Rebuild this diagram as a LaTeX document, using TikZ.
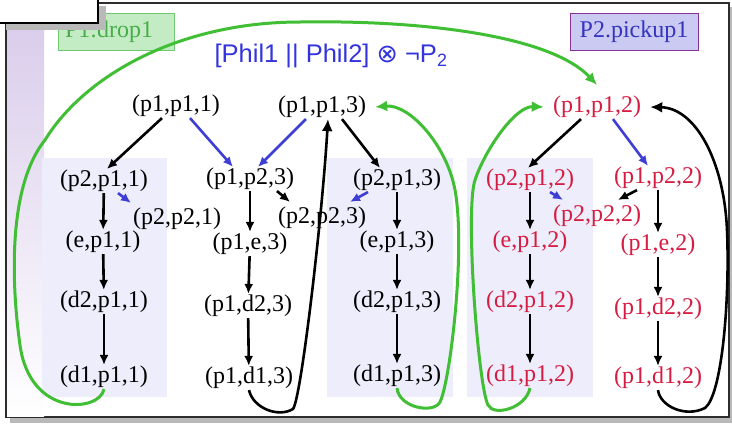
\documentclass[tikz,border=0pt]{standalone}
\usepackage{fontspec}
\setmainfont{Liberation Serif}
\newfontfamily\titlefont{Liberation Sans}
\newfontfamily\symfont{DejaVu Sans}
\usetikzlibrary{arrows.meta}
\definecolor{stred}{RGB}{214,28,66}
\definecolor{arrblue}{RGB}{62,62,212}
\definecolor{grn}{RGB}{64,190,52}
\definecolor{titleblue}{RGB}{52,52,220}
\definecolor{lanefill}{RGB}{237,237,251}
\definecolor{bandtop}{RGB}{216,202,234}
\definecolor{dropfill}{RGB}{196,236,196}
\definecolor{dropdraw}{RGB}{112,200,112}
\definecolor{droptext}{RGB}{72,172,72}
\definecolor{pickfill}{RGB}{202,202,242}
\definecolor{pickdraw}{RGB}{132,52,150}
\definecolor{picktext}{RGB}{52,52,192}

\begin{document}
\begin{tikzpicture}[
  x=1pt, y=-1pt,
  font=\fontsize{24}{28}\selectfont,
  st/.style={inner sep=1pt},
  rst/.style={st, text=stred},
  tag/.style={line width=0.8pt, inner xsep=7pt, inner ysep=0pt,
              minimum height=37pt},
  arr/.style={-{Latex[length=10pt,width=9pt]}, line width=2.6pt},
  barr/.style={arr, draw=arrblue},
  larr/.style={-{Latex[length=12pt,width=11pt]}, line width=2.6pt},
  garr/.style={larr, draw=grn, line width=3pt}
]
\useasboundingbox (0,0) rectangle (732,424);
% slide frame and background
\fill[gray!55] (10,7) rectangle (732,423);
\draw[fill=white, draw=gray!35!black, line width=1.2pt] (6,3) rectangle (729,417);
\shade[top color=bandtop, bottom color=white] (7,4) rectangle (44,416);
\fill[lanefill] (42,158) rectangle (167,397);
\fill[lanefill] (327,158) rectangle (453,397);
\fill[lanefill] (467,158) rectangle (593,397);

\node[tag, draw=dropdraw, fill=dropfill, text=droptext, text width=102pt,
      align=left] (drop) at (116,31.5) {P1:drop1};
\node[tag, draw=pickdraw, fill=pickfill, text=picktext, minimum width=128pt]
  (pick) at (634,31.5) {P2.pickup1};
\node[text=titleblue, inner sep=0pt, font=\fontsize{25.5}{28}\selectfont]
  (title) at (331,56)
  {\titlefont [Phil1 || Phil2] {\symfont ⊗} ¬P\textsubscript{2}};

% corner box
\fill[gray!55] (6,6) rectangle (106,30);
\draw[fill=white, line width=1.2pt] (-1,-1) rectangle (98,23);

% states
\node[st] (p1p1-1) at (176,106) {(p1,p1,1)};
\node[st] (p1p1-3) at (322,107) {(p1,p1,3)};
\node[rst] (p1p1-2) at (597,107) {(p1,p1,2)};

\node[st] (p2p1-1) at (104,181) {(p2,p1,1)};
\node[st] (p2p2-1) at (177,219) {(p2,p2,1)};
\node[st] (ep1-1) at (103,242) {(e,p1,1)};
\node[st] (d2p1-1) at (104,302) {(d2,p1,1)};
\node[st] (d1p1-1) at (104,377) {(d1,p1,1)};

\node[st] (p1p2-3) at (250,179) {(p1,p2,3)};
\node[st] (p2p2-3) at (322,218) {(p2,p2,3)};
\node[st] (p1e-3) at (250,244) {(p1,e,3)};
\node[st] (p1d2-3) at (248,306) {(p1,d2,3)};
\node[st] (p1d1-3) at (249,378) {(p1,d1,3)};

\node[st] (p2p1-3) at (397,180) {(p2,p1,3)};
\node[st] (ep1-3) at (397,242) {(e,p1,3)};
\node[st] (d2p1-3) at (397,302) {(d2,p1,3)};
\node[st] (d1p1-3) at (397,376) {(d1,p1,3)};

\node[rst] (p2p1-2) at (530,180) {(p2,p1,2)};
\node[rst] (p2p2-2) at (597,216) {(p2,p2,2)};
\node[rst] (ep1-2) at (530,242) {(e,p1,2)};
\node[rst] (d2p1-2) at (530,302) {(d2,p1,2)};
\node[rst] (d1p1-2) at (530,376) {(d1,p1,2)};

\node[rst] (p1p2-2) at (658,178) {(p1,p2,2)};
\node[rst] (p1e-2) at (658,245) {(p1,e,2)};
\node[rst] (p1d2-2) at (658,309) {(p1,d2,2)};
\node[rst] (p1d1-2) at (658,378) {(p1,d1,2)};

% moves out of the top states
\draw[arr] ([xshift=-14pt]p1p1-1.south) -- ([xshift=3pt]p2p1-1.north);
\draw[barr] ([xshift=14pt]p1p1-1.south) -- ([xshift=-17pt]p1p2-3.north);
\draw[barr] ([xshift=-16pt]p1p1-3.south) -- ([xshift=8pt]p1p2-3.north);
\draw[arr] ([xshift=20pt]p1p1-3.south) -- ([xshift=-17pt]p2p1-3.north);
\draw[arr] ([xshift=-16pt]p1p1-2.south) -- ([xshift=-2pt]p2p1-2.north);
\draw[barr] ([xshift=16pt]p1p1-2.south) -- ([xshift=-10pt]p1p2-2.north);

% small steps
\draw[barr] ([xshift=14pt]p2p1-1.south) -- ([xshift=-46pt,yshift=4pt]p2p2-1.north);
\draw[arr] ([xshift=27pt]p1p2-3.south) -- ([xshift=-32pt,yshift=4pt]p2p2-3.north);
\draw[barr] ([xshift=-29pt]p2p1-3.south) -- ([xshift=28pt,yshift=4pt]p2p2-3.north);
\draw[barr] ([xshift=20pt]p2p1-2.south) -- ([xshift=-34pt,yshift=4pt]p2p2-2.north);
\draw[arr] ([xshift=-21pt]p1p2-2.south) -- ([xshift=21pt,yshift=4pt]p2p2-2.north);

% columns
\draw[arr] (p2p1-1) -- (ep1-1);
\draw[arr] (ep1-1) -- (d2p1-1);
\draw[arr] (d2p1-1) -- (d1p1-1);
\draw[arr] (p1p2-3) -- (p1e-3);
\draw[arr] (p1e-3) -- (p1d2-3);
\draw[arr] (p1d2-3) -- (p1d1-3);
\draw[arr] (p2p1-3) -- (ep1-3);
\draw[arr] (ep1-3) -- (d2p1-3);
\draw[arr] (d2p1-3) -- (d1p1-3);
\draw[arr] (p2p1-2) -- (ep1-2);
\draw[arr] (ep1-2) -- (d2p1-2);
\draw[arr] (d2p1-2) -- (d1p1-2);
\draw[arr] (p1p2-2) -- (p1e-2);
\draw[arr] (p1e-2) -- (p1d2-2);
\draw[arr] (p1d2-2) -- (p1d1-2);

% loops back
\draw[larr] (p1d1-3.south) .. controls (253,408) and (278,418) .. (293,409)
  .. controls (301,399) and (322,220) .. ([xshift=6pt]p1p1-3.south);
\draw[larr] (p1d1-2.south) .. controls (660,406) and (685,418) .. (705,408)
  .. controls (722,395) and (730,300) .. (727,230)
  .. controls (724,160) and (695,108) .. ([xshift=8pt]p1p1-2.east);
\draw[garr] (d1p1-1.south) .. controls (100,412) and (30,418) .. (20,345)
  .. controls (13,296) and (5,190) .. (45,140)
  .. controls (85,75) and (180,22) .. (300,22)
  .. controls (420,20) and (550,35) .. ([yshift=10pt]p1p1-2.north);
\draw[garr] (d1p1-3.south) .. controls (399,408) and (434,414) .. (440,402)
  .. controls (450,382) and (466,250) .. (455,190)
  .. controls (447,146) and (410,104) .. ([xshift=8pt]p1p1-3.east);
\draw[garr] (d1p1-2.south) .. controls (526,408) and (494,417) .. (488,405)
  .. controls (478,385) and (465,210) .. (475,180)
  .. controls (485,150) and (515,106) .. ([xshift=-8pt]p1p1-2.west);
\end{tikzpicture}
\end{document}
